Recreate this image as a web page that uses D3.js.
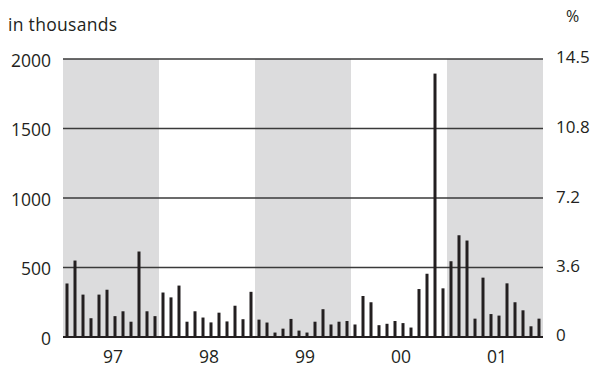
<!DOCTYPE html>
<html><head><meta charset="utf-8">
<script src="https://cdn.jsdelivr.net/npm/d3@7"></script>
<style>body{margin:0;background:#fff}svg{display:block}text{font-family:"Open Sans","Noto Sans",sans-serif;fill:#231f20}</style>
</head><body><svg id="c" width="591" height="369"></svg>
<script>
const years = ["97","98","99","00","01"];
const shadedYears = ["97","99","01"];
const values = [
 385,550,305,135,305,340,150,185,110,615,185,150,
 320,285,370,110,185,140,105,175,112,225,128,325,
 125,104,32,60,130,46,32,110,200,90,110,115,
 90,295,250,85,95,115,100,68,345,455,1895,350,
 545,732,694,132,427,165,154,386,250,192,77,132
];
const leftTicks = [0,500,1000,1500,2000];
const rightTicks = [0,3.6,7.2,10.8,14.5];

const svg = d3.select("#c");
const m = {l:63, r:543, t:59, b:337};
const months = d3.range(values.length);
const x = d3.scaleBand().domain(months).range([m.l, m.r]).paddingInner(0);
const xy = d3.scaleBand().domain(years).range([m.l, m.r]);
const y = d3.scaleLinear().domain([0,2000]).range([m.b, m.t]);
const y2 = d3.scaleLinear().domain([0,14.5]).range([m.b, m.t]);

svg.append("g").selectAll("rect").data(shadedYears).join("rect")
  .attr("x", d=>xy(d)).attr("width", xy.bandwidth())
  .attr("y", m.t).attr("height", m.b-m.t).attr("fill","#dcdcdd");

svg.append("g").selectAll("line").data(leftTicks.slice(1)).join("line")
  .attr("x1", m.l).attr("x2", m.r).attr("y1", d=>y(d)).attr("y2", d=>y(d))
  .attr("stroke","#3a3a3a").attr("stroke-width",1.5);

svg.append("g").selectAll("rect").data(values).join("rect")
  .attr("x", (d,i)=>x(i)+x.bandwidth()/2-1.5).attr("width",3)
  .attr("y", d=>y(d)).attr("height", d=>m.b-y(d)).attr("fill","#231f20");

svg.append("line").attr("x1",m.l).attr("x2",m.r).attr("y1",m.b).attr("y2",m.b)
  .attr("stroke","#231f20").attr("stroke-width",2.2);

svg.append("g").selectAll("text").data(leftTicks).join("text")
  .attr("x",51).attr("y",d=>y(d)+3).attr("text-anchor","end").attr("dominant-baseline","middle")
  .attr("font-size",17.5).text(d=>d);
svg.append("g").selectAll("text").data(rightTicks).join("text")
  .attr("x",556).attr("y",d=>y2(d)-1).attr("dominant-baseline","middle")
  .attr("font-size",17).text(d=>d);
svg.append("g").selectAll("text").data(years).join("text")
  .attr("x",d=>xy(d)+xy.bandwidth()/2+2).attr("y",363).attr("text-anchor","middle")
  .attr("font-size",17.5).text(d=>d);
svg.append("text").attr("x",8).attr("y",31).attr("font-size",17.5).attr("letter-spacing",0.3).text("in thousands");
svg.append("text").attr("x",566).attr("y",22).attr("font-size",16).text("%");
</script></body></html>
